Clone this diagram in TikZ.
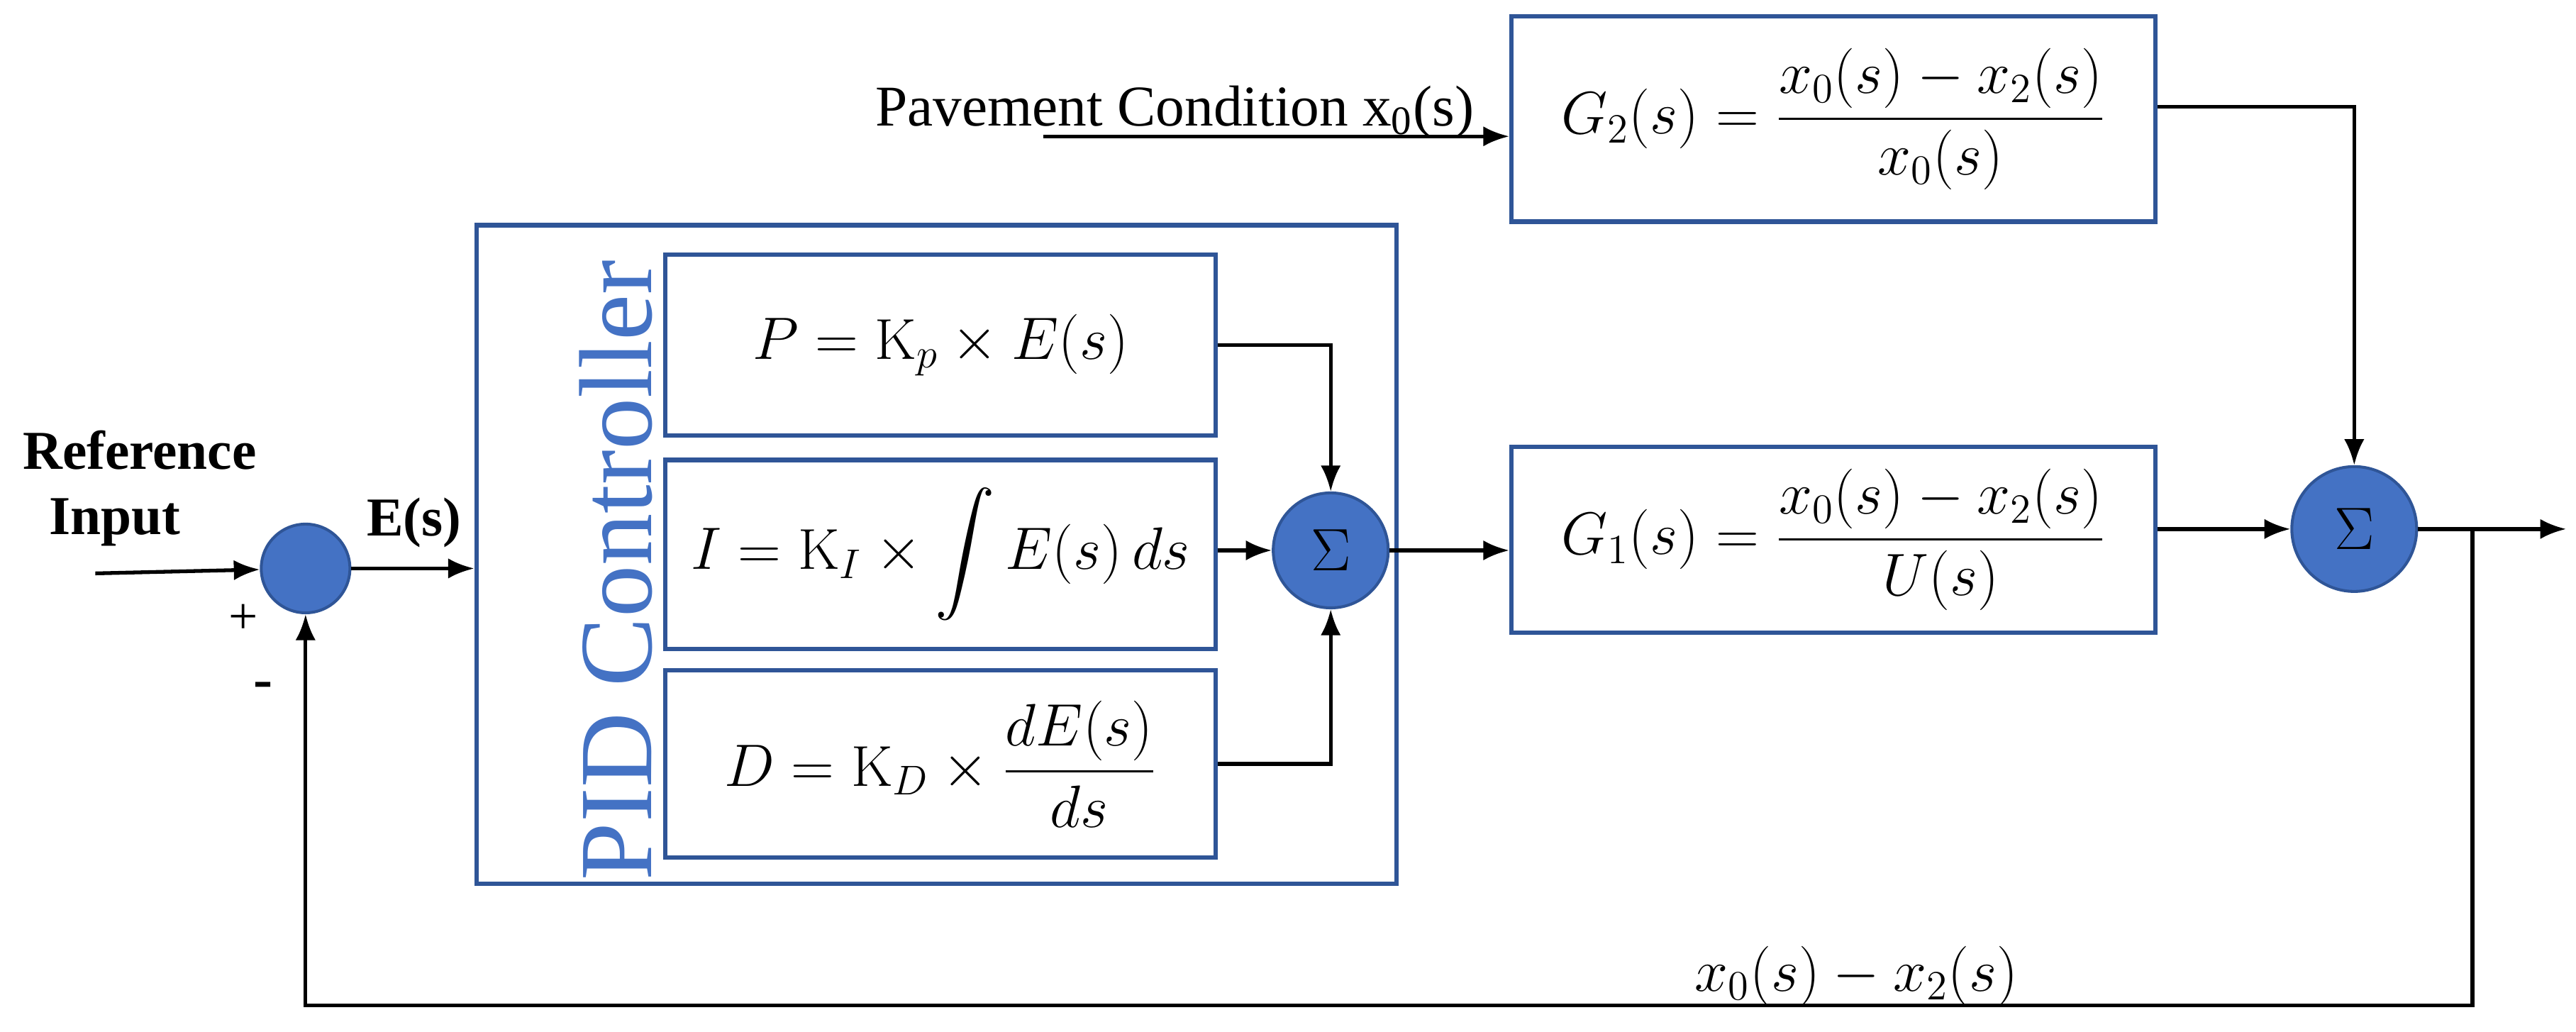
\documentclass[tikz,border=0pt]{standalone}
\usepackage{amsmath}
\usepackage{fontspec}
\newfontfamily\tnr{Liberation Serif}
\usetikzlibrary{arrows.meta}
\definecolor{bfill}{HTML}{4472C4}
\definecolor{bline}{HTML}{2F5597}
\begin{document}
\begin{tikzpicture}[x=0.02cm,y=-0.02cm,
  box/.style={draw=bline,line width=1.6pt,inner sep=0pt},
  sum/.style={circle,draw=bline,fill=bfill,line width=1pt,inner sep=0pt},
  ar/.style={-{Latex[length=9pt,width=7pt]},line width=1.3pt},
  every node/.style={font=\fontsize{20}{24}\selectfont}]
\useasboundingbox (0,0) rectangle (1568,628);
% summing junction 1
\node[sum,minimum size=1.08cm] (s1) at (186,346) {};
\coordinate (in) at (58,349);
\node[font=\tnr\bfseries\fontsize{19}{22}\selectfont] (ri1) at (85,274) {Reference};
\node[font=\tnr\bfseries\fontsize{19}{22}\selectfont] (ri2) at (70,318) {Input};
\node[font=\tnr\fontsize{18}{22}\selectfont] (plus) at (148,377) {+};
\node[font=\tnr\bfseries\fontsize{20}{22}\selectfont] (minus) at (160,420) {-};
\node[font=\tnr\bfseries\fontsize{19}{22}\selectfont] (es) at (252,318) {E(s)};
% PID
\node[box,minimum width=11.2cm,minimum height=8.02cm] (pid) at (570,337.5) {};
\node[rotate=90,text=bfill,font=\tnr\fontsize{36}{40}\selectfont] (pidl) at (375,347) {PID Controller};
\node[box,minimum width=6.7cm,minimum height=2.2cm] (P) at (572.5,210) {$P=\mathrm{K}_p\times E(s)$};
\node[box,minimum width=6.7cm,minimum height=2.3cm] (I) at (572.5,337.5) {$I=\mathrm{K}_I\times \displaystyle\int E(s)\,ds$};
\node[box,minimum width=6.7cm,minimum height=2.28cm] (D) at (572.5,465) {$D=\mathrm{K}_D\times \dfrac{dE(s)}{ds}$};
\node[sum,minimum size=1.4cm] (s2) at (810,335) {$\Sigma$};
% plants
\node[box,minimum width=7.84cm,minimum height=2.26cm] (G1) at (1116,328.5) {$G_1(s)=\dfrac{x_0(s)-x_2(s)}{U(s)}$};
\node[box,minimum width=7.84cm,minimum height=2.5cm] (G2) at (1116,72.5) {$G_2(s)=\dfrac{x_0(s)-x_2(s)}{x_0(s)}$};
\node[font=\tnr\fontsize{20}{22}\selectfont] (pc) at (715,68) {Pavement Condition x\textsubscript{0}(s)};
\coordinate (pcs) at (635,83);
\node[sum,minimum size=1.52cm] (s3) at (1433,322) {$\Sigma$};
\coordinate (out) at (1562,322);
\coordinate (fb) at (1505,322);
\coordinate (fb1) at (1505,612);
\coordinate (fb2) at (186,612);
\node (fbl) at (1130,594) {$x_0(s)-x_2(s)$};
% connectors
\draw[ar] (in) -- (s1);
\draw[ar] (s1) -- (pid.west|-s1);
\draw[ar] (P.east) -| (s2.north);
\draw[ar] (I.east|-s2) -- (s2.west);
\draw[ar] (D.east) -| (s2.south);
\draw[ar] (s2.east) -- (G1.west|-s2);
\draw[ar] (pcs) -- (G2.west|-pcs);
\draw[ar] (G2.east|-0,65) -| (s3.north);
\draw[ar] (G1.east|-s3) -- (s3.west);
\draw[ar] (s3.east) -- (out);
\draw[ar] (fb) -- (fb1) -- (fb2) -- (s1.south);
\end{tikzpicture}
\end{document}
